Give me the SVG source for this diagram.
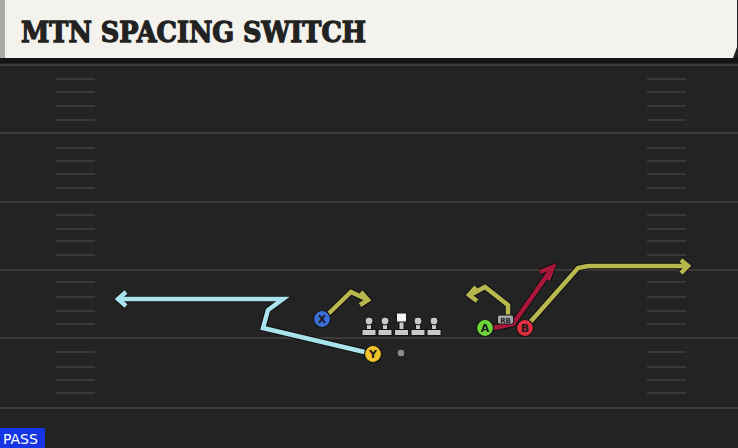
<svg xmlns="http://www.w3.org/2000/svg" width="738" height="448" viewBox="0 0 738 448">
<defs>
<style>
.yl{stroke:#3c3c3c;stroke-width:2}
.hm{stroke:#383838;stroke-width:2}
.rt{fill:none;stroke-linejoin:miter;stroke-linecap:butt}
.ol{stroke:#111;stroke-width:6.5}
.ygl{stroke:#b9b84e;stroke-width:4.5}
.blu{stroke:#a9e3ee;stroke-width:4.5}
.red{stroke:#a8183a;stroke-width:4.5}
.lbl{font-family:"DejaVu Sans","Liberation Sans",sans-serif;font-weight:bold;font-size:11px;fill:#1a1a1a;text-anchor:middle}
.pl{stroke:#151515;stroke-width:1.2}
.ln{fill:#c9c9c9;stroke:#151515;stroke-width:1}
</style>
</defs>
<rect width="738" height="448" fill="#232323"/>
<g id="field">
<line class="yl" x1="0" y1="65" x2="738" y2="65"/>
<line class="yl" x1="0" y1="133" x2="738" y2="133"/>
<line class="yl" x1="0" y1="202" x2="738" y2="202"/>
<line class="yl" x1="0" y1="270" x2="738" y2="270"/>
<line class="yl" x1="0" y1="338" x2="738" y2="338"/>
<line class="yl" x1="0" y1="408" x2="738" y2="408"/>
<g class="hm">
<line x1="56" y1="79" x2="95" y2="79"/><line x1="56" y1="92" x2="95" y2="92"/><line x1="56" y1="106" x2="95" y2="106"/><line x1="56" y1="120" x2="95" y2="120"/>
<line x1="56" y1="148" x2="95" y2="148"/><line x1="56" y1="161" x2="95" y2="161"/><line x1="56" y1="174" x2="95" y2="174"/><line x1="56" y1="188" x2="95" y2="188"/>
<line x1="56" y1="215" x2="95" y2="215"/><line x1="56" y1="229" x2="95" y2="229"/><line x1="56" y1="241" x2="95" y2="241"/><line x1="56" y1="255" x2="95" y2="255"/>
<line x1="56" y1="282" x2="95" y2="282"/><line x1="56" y1="297" x2="95" y2="297"/><line x1="56" y1="311" x2="95" y2="311"/><line x1="56" y1="324" x2="95" y2="324"/>
<line x1="56" y1="352" x2="95" y2="352"/><line x1="56" y1="367" x2="95" y2="367"/><line x1="56" y1="380" x2="95" y2="380"/><line x1="56" y1="393" x2="95" y2="393"/>
<line x1="647" y1="79" x2="686" y2="79"/><line x1="647" y1="92" x2="686" y2="92"/><line x1="647" y1="106" x2="686" y2="106"/><line x1="647" y1="120" x2="686" y2="120"/>
<line x1="647" y1="148" x2="686" y2="148"/><line x1="647" y1="161" x2="686" y2="161"/><line x1="647" y1="174" x2="686" y2="174"/><line x1="647" y1="188" x2="686" y2="188"/>
<line x1="647" y1="215" x2="686" y2="215"/><line x1="647" y1="229" x2="686" y2="229"/><line x1="647" y1="241" x2="686" y2="241"/><line x1="647" y1="255" x2="686" y2="255"/>
<line x1="647" y1="282" x2="686" y2="282"/><line x1="647" y1="297" x2="686" y2="297"/><line x1="647" y1="311" x2="686" y2="311"/><line x1="647" y1="324" x2="686" y2="324"/>
<line x1="647" y1="352" x2="686" y2="352"/><line x1="647" y1="367" x2="686" y2="367"/><line x1="647" y1="380" x2="686" y2="380"/><line x1="647" y1="393" x2="686" y2="393"/>
</g>
</g>
<g id="header">
<rect x="0" y="57" width="738" height="6" fill="#141414"/>
<polygon points="0,0 737,0 737,47 733,58 0,58" fill="#f4f2ec"/>
<rect x="0" y="0" width="5" height="58" fill="#a9a9a6"/>
<text x="21" y="42" font-family="'DejaVu Serif','Liberation Serif',serif" font-weight="bold" font-size="28" fill="#222" stroke="#222" stroke-width="1.3" textLength="345" lengthAdjust="spacingAndGlyphs">MTN SPACING SWITCH</text>
</g>
<g id="connectors">
<g class="rt ol">
<polyline points="373,354 263,328 268,310 283,299 120,299"/>
<polyline points="126,292 118,299 126,306"/>
<polyline points="323,319 351,292 366,299"/>
<polyline points="361,292 368,300 360,305"/>
<polyline points="508,318 508,305 485,287 470,295"/>
<polyline points="476,287 469,295 477,301"/>
<polyline points="493,328 513,324 553,267"/>
<polyline points="540,272 553,267 548,280"/>
<polyline points="525,328 578,268 588,266 688,266"/>
<polyline points="681,260 688,266 681,273"/>
</g>
<g class="rt">
<polyline class="blu" points="373,354 263,328 268,310 283,299 120,299"/>
<polyline class="blu" points="126,292 118,299 126,306"/>
<polyline class="ygl" points="323,319 351,292 366,299"/>
<polyline class="ygl" points="361,292 368,300 360,305"/>
<polyline class="ygl" points="508,318 508,305 485,287 470,295"/>
<polyline class="ygl" points="476,287 469,295 477,301"/>
<polyline class="red" points="493,328 513,324 553,267"/>
<polyline class="red" points="540,272 553,267 548,280"/>
<polyline class="ygl" points="525,328 578,268 588,266 688,266"/>
<polyline class="ygl" points="681,260 688,266 681,273"/>
</g>
</g>
<g id="line">
<g id="lt"><rect class="ln" x="366.5" y="322" width="5" height="9"/><circle class="ln" cx="369" cy="321" r="4"/><rect class="ln" x="362" y="329.5" width="14" height="6"/></g>
<g id="lg"><rect class="ln" x="382.5" y="322" width="5" height="9"/><circle class="ln" cx="385" cy="321" r="4"/><rect class="ln" x="378" y="329.5" width="14" height="6"/></g>
<g id="c"><rect class="ln" x="399" y="321" width="5" height="10"/><rect x="396.5" y="313" width="10" height="9" fill="#f5f5f5" stroke="#151515" stroke-width="1"/><rect class="ln" x="394.5" y="329.5" width="14" height="6"/></g>
<g id="rg"><rect class="ln" x="415.5" y="322" width="5" height="9"/><circle class="ln" cx="418" cy="321" r="4"/><rect class="ln" x="411" y="329.5" width="14" height="6"/></g>
<g id="rt"><rect class="ln" x="431.5" y="322" width="5" height="9"/><circle class="ln" cx="434" cy="321" r="4"/><rect class="ln" x="427" y="329.5" width="14" height="6"/></g>
</g>
<g id="qb"><circle cx="401" cy="353" r="4" fill="#8a8a8a" stroke="#1a1a1a" stroke-width="1"/></g>
<g id="X"><circle class="pl" cx="322" cy="319" r="8.5" fill="#3b6fd6"/><text class="lbl" x="322" y="323">X</text></g>
<g id="Y"><circle class="pl" cx="373" cy="354" r="8.5" fill="#f0c42a"/><text class="lbl" x="373" y="358">Y</text></g>
<g id="A"><circle class="pl" cx="485" cy="328" r="8.5" fill="#6dd43c"/><text class="lbl" x="485" y="332">A</text></g>
<g id="B"><circle class="pl" cx="525" cy="328" r="8.5" fill="#e0303f"/><text class="lbl" x="525" y="332">B</text></g>
<g id="RB"><rect x="497.5" y="315" width="16" height="9" rx="2" fill="#a8a8a8" stroke="#151515" stroke-width="1"/><text x="505.5" y="322.5" font-family="'DejaVu Sans','Liberation Sans',sans-serif" font-weight="bold" font-size="7" fill="#222" text-anchor="middle">RB</text></g>
<g id="pass"><rect x="0" y="428" width="45" height="20" fill="#1636e6"/><text x="3" y="444" font-family="'DejaVu Sans','Liberation Sans',sans-serif" font-size="14" fill="#fff">PASS</text></g>
</svg>
